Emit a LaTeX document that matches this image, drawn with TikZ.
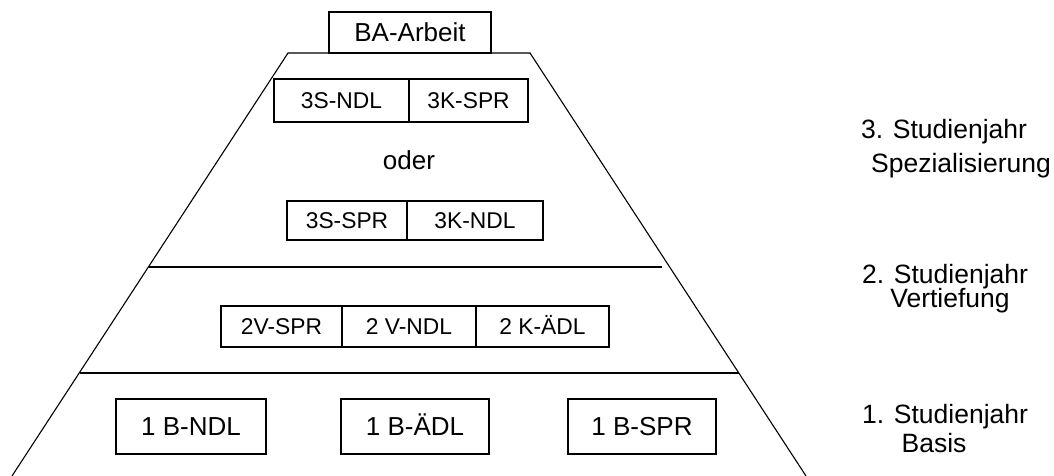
\documentclass[tikz,border=0pt]{standalone}
\usepackage{fontspec}
\setmainfont{Liberation Sans}
\tikzset{
  big/.style={font=\fontsize{26}{31}\selectfont, text height=18.5pt, text depth=0pt},
  small/.style={font=\fontsize{22.8}{27}\selectfont, text height=16.3pt, text depth=0pt},
  box/.style={draw, line width=1.1pt, inner sep=0pt, anchor=center},
  edge/.style={line width=1.1pt},
  side/.style={font=\fontsize{26.5}{31}\selectfont, anchor=base, inner sep=0pt}
}
\begin{document}
\begin{tikzpicture}[x=1pt,y=-1pt]
\useasboundingbox (0,0) rectangle (1054,476);
% pyramid outline
\coordinate (TL) at (288,53);
\coordinate (TR) at (530,53);
\coordinate (BL) at (12,476);
\coordinate (BR) at (806,476);
\coordinate (M2L) at (149,267);
\coordinate (M2R) at (662,267);
\coordinate (M1L) at (80,373);
\coordinate (M1R) at (739,373);
\draw[edge] (BL) -- (TL) -- (TR) -- (BR);
\draw[edge] (M2L) -- (M2R);
\draw[edge] (M1L) -- (M1R);
% top
\node[box, big, minimum width=162pt, minimum height=41pt, fill=white] (ba) at (410,32.5) {BA-Arbeit};
% year 3
\node[box, small, minimum width=135pt, minimum height=43pt] (s3n) at (341.5,100.5) {3S-NDL};
\node[box, small, minimum width=119pt, minimum height=43pt] (k3s) at (468.5,100.5) {3K-SPR};
\node[big, inner sep=0pt] (oder) at (409,160) {oder};
\node[box, small, minimum width=120pt, minimum height=39pt] (s3s) at (347,220.5) {3S-SPR};
\node[box, small, minimum width=136pt, minimum height=39pt] (k3n) at (475,220.5) {3K-NDL};
% year 2
\node[box, small, minimum width=121pt, minimum height=41pt] (v2s) at (281.5,326.5) {2V-SPR};
\node[box, small, minimum width=134pt, minimum height=41pt] (v2n) at (409,326.5) {2 V-NDL};
\node[box, small, minimum width=133pt, minimum height=41pt] (k2a) at (542.5,326.5) {2 K-ÄDL};
% year 1
\node[box, big, minimum width=150pt, minimum height=55pt] (b1n) at (191,426.5) {1 B-NDL};
\node[box, big, minimum width=148pt, minimum height=55pt] (b1a) at (415,426.5) {1 B-ÄDL};
\node[box, big, minimum width=148pt, minimum height=55pt] (b1s) at (642,426.5) {1 B-SPR};
% side labels
\node[side] (l3a) at (944,139) {3. Studienjahr};
\node[side] (l3b) at (961,172) {Spezialisierung};
\node[side] (l2a) at (945,283) {2. Studienjahr};
\node[side] (l2b) at (950,307) {Vertiefung};
\node[side] (l1a) at (945,423) {1. Studienjahr};
\node[side] (l1b) at (934,452) {Basis};
\end{tikzpicture}
\end{document}
